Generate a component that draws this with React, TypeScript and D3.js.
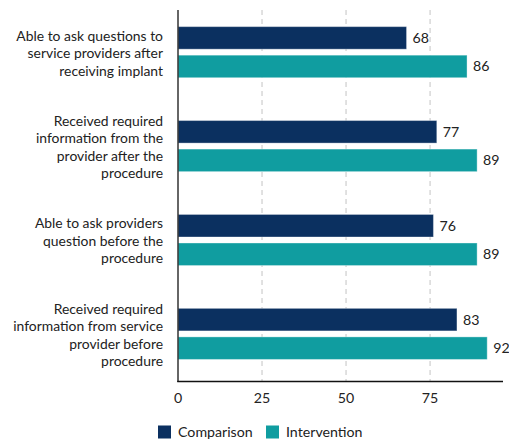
import React from "react";
import * as d3 from "d3";

const categories = [
  ["Able to ask questions to", "service providers after", "receiving implant"],
  ["Received required", "information from the", "provider after the", "procedure"],
  ["Able to ask providers", "question before the", "procedure"],
  ["Received required", "information from service", "provider before", "procedure"],
];
const seriesNames = ["Comparison", "Intervention"];
const comparison = [68, 77, 76, 83];
const intervention = [86, 89, 89, 92];
const xTicks = [0, 25, 50, 75];
const colors = ["#0b3060", "#109da0"];

const W = 509;
const H = 439;
const FONT = "Lato, 'Open Sans', sans-serif";

export default function App() {
  const ids = categories.map((_, i) => String(i));
  const x = d3.scaleLinear().domain([0, 96.7]).range([178, 503]);
  const y0 = d3
    .scaleBand<string>()
    .domain(ids)
    .range([10, 381.5])
    .paddingInner(0.456)
    .paddingOuter(0.206)
    .align(0.43);
  const y1 = d3
    .scaleBand<string>()
    .domain(seriesNames)
    .range([0, y0.bandwidth()])
    .paddingInner(0.21);
  const series = [comparison, intervention];
  const lineH = 17.5;

  return (
    <svg
      width={W}
      height={H}
      style={{ position: "absolute", left: 0, top: 0, background: "#fff" }}
      fontFamily={FONT}
    >
      {xTicks.slice(1).map((t) => (
        <line
          key={t}
          x1={x(t)}
          x2={x(t)}
          y1={10}
          y2={381.5}
          stroke="#c4c4c4"
          strokeDasharray="5,4"
          strokeWidth={1}
        />
      ))}
      {ids.map((id, i) => (
        <g key={id} transform={`translate(0,${y0(id)})`}>
          {seriesNames.map((s, j) => {
            const v = series[j][i];
            const yy = y1(s)!;
            return (
              <g key={s}>
                <rect
                  x={x(0)}
                  y={yy}
                  width={x(v) - x(0)}
                  height={y1.bandwidth()}
                  fill={colors[j]}
                  stroke="#ffffff"
                  strokeOpacity={0.35}
                  strokeWidth={1}
                />
                <text
                  x={x(v) + 6}
                  y={yy + y1.bandwidth() / 2}
                  dy="0.35em"
                  fontSize={14.2}
                  fill="#222"
                >
                  {v}
                </text>
              </g>
            );
          })}
        </g>
      ))}
      {ids.map((id, i) => {
        const lines = categories[i];
        const cy = y0(id)! + y0.bandwidth() / 2 + 1;
        const start = cy - ((lines.length - 1) * lineH) / 2;
        return (
          <text key={id} textAnchor="end" fontSize={13.9} fill="#222">
            {lines.map((l, k) => (
              <tspan key={k} x={163} y={start + k * lineH} dy="0.35em">
                {l}
              </tspan>
            ))}
          </text>
        );
      })}
      <line x1={x(0)} x2={x(0)} y1={10} y2={382} stroke="#333" strokeWidth={1.5} />
      <line x1={x(0) - 0.75} x2={503} y1={381.5} y2={381.5} stroke="#111" strokeWidth={1.5} />
      {xTicks.map((t) => (
        <text key={t} x={x(t)} y={398} dy="0.35em" textAnchor="middle" fontSize={14.2} fill="#222">
          {t}
        </text>
      ))}
      {seriesNames.map((s, j) => {
        const lx = [158, 266][j];
        return (
          <g key={s}>
            <rect x={lx} y={425.5} width={13} height={13} fill={colors[j]} />
            <text x={lx + 20} y={432.5} dy="0.35em" fontSize={14.2} fill="#222">
              {s}
            </text>
          </g>
        );
      })}
    </svg>
  );
}
